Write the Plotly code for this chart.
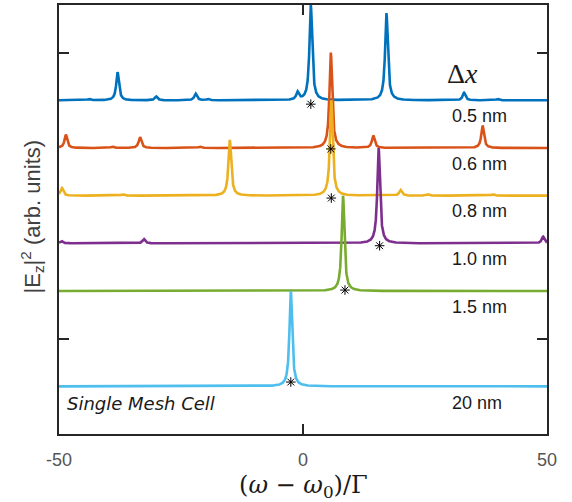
import numpy as np
import plotly.graph_objects as go

# ---- data ----
x_range = [-50, 50]
x_ticks = [-50, 0, 50]
x_tick_labels = ["-50", "0", "50"]

series_labels = ["0.5 nm", "0.6 nm", "0.8 nm", "1.0 nm", "1.5 nm", "20 nm"]
series_colors = ["#0072BD", "#D95319", "#EDB120", "#7E2F8E", "#77AC30", "#4DBEEE"]
series_offsets = [6, 5, 4, 3, 2, 0]

# resonance peaks per series: centers, heights
blue_centers = [1.6, 17.1, -38.0, -30.1, -22.0, -43.8, -19.5, -1.1, 33.0, 39.9]
blue_heights = [2.0, 1.83, 0.59, 0.08, 0.14, 0.03, 0.03, 0.16, 0.16, 0.03]
orange_centers = [5.7, -48.6, -39.1, -33.4, -21.1, 14.4, 36.8]
orange_heights = [2.0, 0.28, 0.03, 0.23, 0.03, 0.26, 0.47]
yellow_centers = [5.8, -49.4, -36.9, -15.0, 20.0, 25.6, 38.9]
yellow_heights = [2.0, 0.16, 0.03, 1.17, 0.12, 0.03, 0.03]
purple_centers = [15.5, -32.6, -49.5, 49.2]
purple_heights = [2.0, 0.09, 0.05, 0.14]
green_centers = [8.2]
green_heights = [2.0]
cyan_centers = [-2.5]
cyan_heights = [2.0]
peak_halfwidth = 0.33

all_centers = [blue_centers, orange_centers, yellow_centers, purple_centers, green_centers, cyan_centers]
all_heights = [blue_heights, orange_heights, yellow_heights, purple_heights, green_heights, cyan_heights]

# asterisk markers (mode positions)
star_x = [1.6, 5.7, 5.8, 15.7, 8.6, -2.5]
star_y = [5.92, 4.98, 3.95, 2.95, 2.02, 0.09]

label_x = 30.1
label_y = [5.67, 4.66, 3.68, 2.68, 1.67, -0.36]

# ---- figure ----
omega = np.linspace(x_range[0], x_range[1], 6001)
fig = go.Figure()
for name, col, off, cs, hs in zip(series_labels, series_colors, series_offsets, all_centers, all_heights):
    y = np.full_like(omega, float(off))
    for c, h in zip(cs, hs):
        y += h * peak_halfwidth**2 / ((omega - c) ** 2 + peak_halfwidth**2)
    fig.add_trace(go.Scatter(x=omega, y=y, mode="lines", name=name,
                             line=dict(color=col, width=2.6), hoverinfo="skip"))

fig.add_trace(go.Scatter(x=star_x, y=star_y, mode="markers",
                         marker=dict(symbol="asterisk-open", size=8, color="black",
                                     line=dict(color="black", width=1)),
                         hoverinfo="skip"))

annotations = []
for lab, ly in zip(series_labels, label_y):
    annotations.append(dict(x=label_x, y=ly, xref="x", yref="y", text=lab, showarrow=False,
                            xanchor="left", yanchor="middle",
                            font=dict(family="Liberation Sans, Arial", size=18, color="#1a1a1a")))
annotations.append(dict(x=29.0, y=6.57, xref="x", yref="y", text="Δ<i>x</i>", showarrow=False,
                        xanchor="left", yanchor="middle",
                        font=dict(family="Liberation Serif, DejaVu Serif", size=28, color="#1a1a1a")))
annotations.append(dict(x=-48.7, y=-0.36, xref="x", yref="y", text="<i>Single Mesh Cell</i>",
                        showarrow=False, xanchor="left", yanchor="middle",
                        font=dict(family="DejaVu Sans", size=18, color="#1a1a1a")))
annotations.append(dict(x=0, y=0.5, xref="paper", yref="paper", xshift=-27, yshift=3,
                        text="|E<sub>z</sub>|<sup>2</sup> (arb. units)", textangle=-90,
                        showarrow=False, xanchor="center", yanchor="middle",
                        font=dict(family="Liberation Sans, Arial", size=22, color="#404040")))
annotations.append(dict(x=0.5, y=0, xref="paper", yref="paper", yshift=-35,
                        text="(<i>ω</i> − <i>ω</i><sub>0</sub>)/Γ",
                        showarrow=False, xanchor="center", yanchor="top",
                        font=dict(family="DejaVu Serif", size=24, color="#1a1a1a")))

axis_common = dict(showline=True, linewidth=2, linecolor="#262626", mirror="allticks",
                   ticks="inside", ticklen=10, tickwidth=2, tickcolor="#262626",
                   showgrid=False, zeroline=False)

fig.update_layout(
    width=572, height=502,
    margin=dict(l=59, r=25, t=3, b=68),
    plot_bgcolor="white", paper_bgcolor="white",
    showlegend=False,
    xaxis=dict(range=x_range, tickvals=x_ticks, ticktext=x_tick_labels, ticklabelstandoff=8,
               tickfont=dict(family="Liberation Sans, Arial", size=18, color="#555555"),
               **axis_common),
    yaxis=dict(range=[-1, 8], tickvals=[1, 7], showticklabels=False, **axis_common),
    annotations=annotations,
)

fig.write_html("out.html")
